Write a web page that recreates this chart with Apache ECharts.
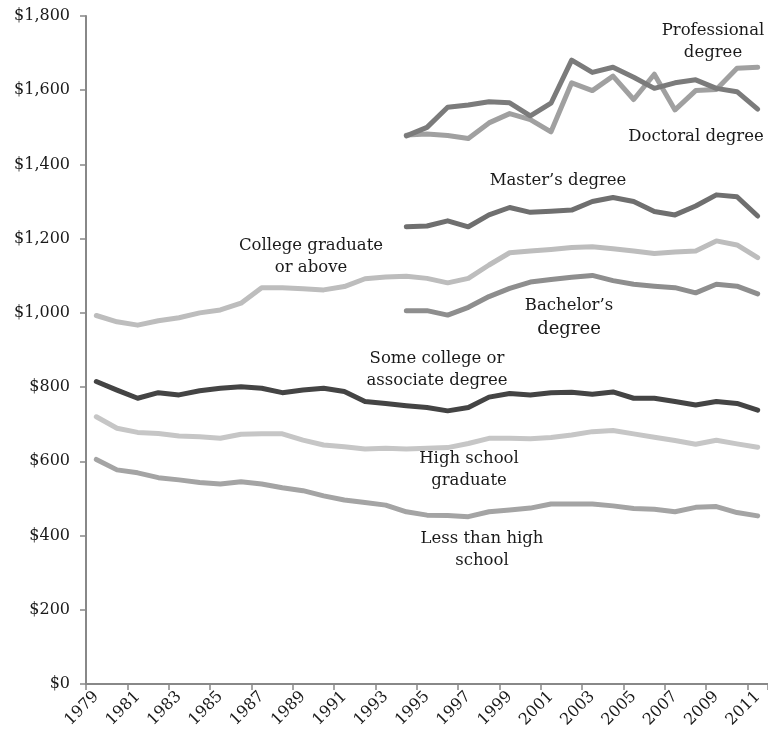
<!DOCTYPE html>
<html lang="en">
<head>
    <meta charset="UTF-8">
    <title>Weekly earnings by education</title>
    <style>
        html,body{margin:0;padding:0;background:#fff;}
        #main{width:768px;height:740px;}
    </style>
    <script type="text/javascript" src="https://cdn.jsdelivr.net/npm/echarts@6/dist/echarts.min.js"></script>
</head>
<body>
<div id="main"></div>
</body>
<script>
    let years=[];
    for(let y=1979;y<=2011;y++){years.push(String(y));}

    // 1979-2011
    let collegeGrad=[993,976,967,979,987,1000,1008,1026,1068,1068,1065,1062,1071,1092,1097,1099,1093,1081,1093,1129,1162,1167,1171,1176,1178,1173,1167,1160,1164,1167,1194,1183,1149];
    let someCollege=[815,792,770,785,779,790,797,801,797,785,792,797,788,761,756,750,745,736,745,773,783,779,785,786,781,787,770,770,761,752,761,756,738];
    let highSchool=[720,689,678,675,668,666,662,673,674,674,657,644,639,633,635,633,635,637,648,662,662,661,664,671,680,683,674,665,656,646,657,647,638];
    let lessHigh=[605,577,569,556,550,543,539,545,539,529,521,507,496,489,482,464,455,454,451,464,469,474,485,485,485,480,473,471,464,476,478,462,453];

    // 1994-2011
    let bachelor=[1006,1006,994,1015,1044,1066,1083,1090,1096,1101,1087,1077,1072,1068,1054,1077,1072,1051];
    let master=[1232,1234,1248,1232,1264,1284,1271,1274,1277,1300,1311,1300,1273,1264,1288,1318,1313,1261];
    let doctoral=[1477,1500,1554,1560,1569,1566,1531,1565,1681,1648,1662,1635,1605,1620,1628,1605,1596,1549];
    let professional=[1479,1482,1478,1470,1512,1537,1521,1488,1620,1599,1638,1575,1643,1547,1599,1602,1659,1662];

    let yTicks=[0,200,400,600,800,1000,1200,1400,1600,1800];

    let pad=new Array(15).fill(null);
    let font='DejaVu Serif';

    function line(name,data,color){
        return {
            type:'line',
            name:name,
            data:data,
            symbol:'none',
            connectNulls:false,
            lineStyle:{color:color,width:5,cap:'round',join:'round'},
            itemStyle:{color:color}
        };
    }

    function note(text,x,y,size){
        return {
            type:'text',
            x:x,
            y:y,
            style:{
                text:text,
                fill:'#1a1a1a',
                font:(size||16.5)+'px "'+font+'"',
                align:'center',
                verticalAlign:'middle',
                lineHeight:22
            }
        };
    }

    let chart=echarts.init(document.getElementById('main'));
    let option={
        animation:false,
        grid:{left:86,right:-4,top:16,bottom:56},
        xAxis:{
            type:'category',
            data:years,
            boundaryGap:true,
            axisLine:{lineStyle:{color:'#888',width:2}},
            axisTick:{show:true,length:6,lineStyle:{color:'#888',width:1.5}},
            axisLabel:{
                interval:1,
                rotate:45,
                margin:10,
                color:'#1a1a1a',
                fontFamily:font,
                fontSize:16
            }
        },
        yAxis:{
            type:'value',
            min:yTicks[0],
            max:yTicks[yTicks.length-1],
            interval:200,
            splitLine:{show:false},
            axisLine:{show:true,lineStyle:{color:'#888',width:2}},
            axisTick:{show:true,length:6,lineStyle:{color:'#888',width:1.5}},
            axisLabel:{
                margin:16,
                color:'#1a1a1a',
                fontFamily:font,
                fontSize:16,
                formatter:function(v){return '$'+v.toLocaleString('en-US');}
            }
        },
        series:[
            line('College graduate or above',collegeGrad,'#bdbdbd'),
            line('Some college or associate degree',someCollege,'#444444'),
            line('High school graduate',highSchool,'#c6c6c6'),
            line('Less than high school',lessHigh,'#a4a4a4'),
            line("Bachelor's degree",pad.concat(bachelor),'#8e8e8e'),
            line("Master's degree",pad.concat(master),'#6f6f6f'),
            line('Professional degree',pad.concat(professional),'#a0a0a0'),
            line('Doctoral degree',pad.concat(doctoral),'#7b7b7b')
        ],
        graphic:[
            note('Professional\ndegree',713,42),
            note('Doctoral degree',696,137),
            note("Master\u2019s degree",558,181),
            note('College graduate\nor above',311,257),
            {
                type:'text',x:569,y:318,
                style:{
                    text:'{a|Bachelor\u2019s}\n{b|degree}',
                    align:'center',verticalAlign:'middle',
                    rich:{
                        a:{fontFamily:font,fontSize:16.5,fill:'#1a1a1a',lineHeight:22,align:'center'},
                        b:{fontFamily:font,fontSize:18,fill:'#1a1a1a',lineHeight:24,align:'center'}
                    }
                }
            },
            note('Some college or\nassociate degree',437,370),
            note('High school\ngraduate',469,470),
            note('Less than high\nschool',482,550)
        ]
    };
    chart.setOption(option);
</script>
</html>
